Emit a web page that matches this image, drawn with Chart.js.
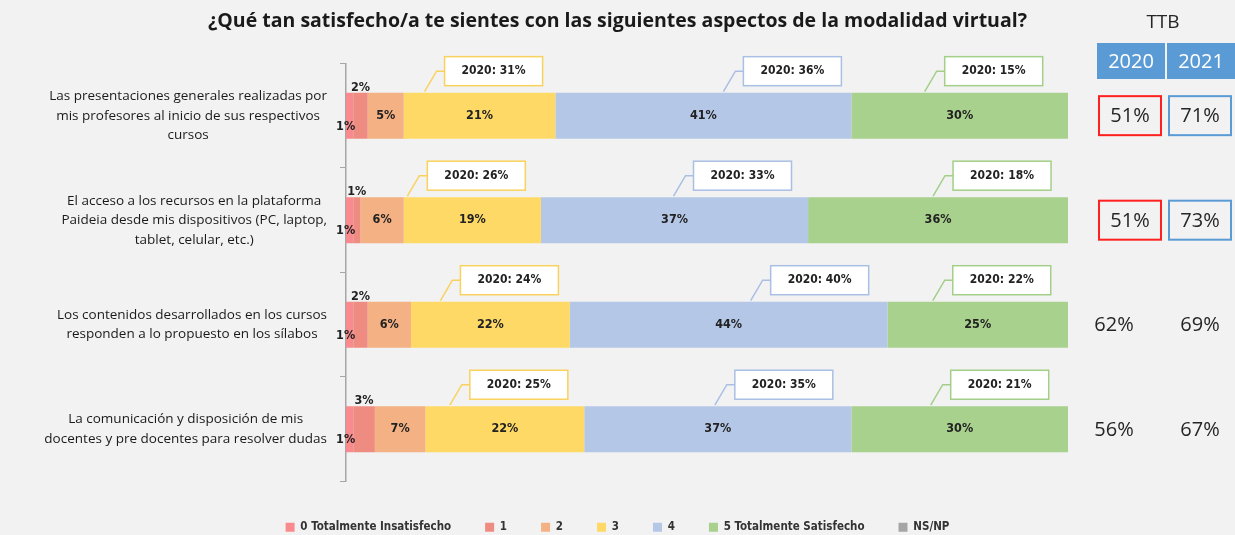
<!DOCTYPE html>
<html>
<head>
<meta charset="utf-8">
<script src="https://cdn.jsdelivr.net/npm/chart.js@4.4.1/dist/chart.umd.min.js"></script>
<style>
  html, body { margin: 0; padding: 0; background: #F2F2F2; overflow: hidden; }
  #wrap { width: 1235px; height: 543px; }
</style>
</head>
<body>
<div id="wrap"><canvas id="grafico"></canvas></div>
<script>
// Datos
const categorias = [
    ['Las presentaciones generales realizadas por', 'mis profesores al inicio de sus respectivos', 'cursos'],
    ['El acceso a los recursos en la plataforma', 'Paideia desde mis dispositivos (PC, laptop,', 'tablet, celular, etc.)'],
    ['Los contenidos desarrollados en los cursos', 'responden a lo propuesto en los sílabos'],
    ['La comunicación y disposición de mis', 'docentes y pre docentes para resolver dudas']
];
const nombresSeries = ['0 Totalmente Insatisfecho', '1', '2', '3', '4', '5 Totalmente Satisfecho', 'NS/NP'];
const valor0 = [1, 1, 1, 1];
const valor1 = [2, 1, 2, 3];
const valor2 = [5, 6, 6, 7];
const valor3 = [21, 19, 22, 22];
const valor4 = [41, 37, 44, 37];
const valor5 = [30, 36, 25, 30];
const valorNS = [0, 0, 0, 0];

// Valores 2020 (cuadros de llamada)
const previo3 = [31, 26, 24, 25];
const previo4 = [36, 33, 40, 35];
const previo5 = [15, 18, 22, 21];

// TTB
const ttbAnios = ['2020', '2021'];
const ttb2020 = [51, 51, 62, 56];
const ttb2021 = [71, 73, 69, 67];
const ttbResaltado = [true, true, false, false];

const colores = ['#F98B8E', '#EE8C82', '#F4B183', '#FFD966', '#B4C7E7', '#A9D18E', '#A5A5A5'];
const fuenteChica = '"Liberation Sans Narrow", "DejaVu Sans Condensed", sans-serif';

const series = [valor0, valor1, valor2, valor3, valor4, valor5, valorNS];

// Fondo gris
const fondo = {
    id: 'fondo',
    beforeDraw(chart) {
        const ctx = chart.ctx;
        ctx.save();
        ctx.fillStyle = '#F2F2F2';
        ctx.fillRect(0, 0, chart.width, chart.height);
        ctx.restore();
    }
};

// Etiquetas del eje Y (centradas por bloque)
const etiquetasY = {
    id: 'etiquetasY',
    afterDraw(chart) {
        const ctx = chart.ctx;
        const escala = chart.scales.y;
        ctx.save();
        ctx.font = '13.5px "Open Sans", sans-serif';
        ctx.fillStyle = '#1a1a1a';
        ctx.textAlign = 'center';
        ctx.textBaseline = 'middle';
        const alto = 19.5;
        chart.data.labels.forEach((lineas, i) => {
            const yc = escala.getPixelForValue(i);
            const ancho = Math.max(...lineas.map(l => ctx.measureText(l).width));
            const xc = escala.right - 19 - ancho / 2;
            lineas.forEach((l, k) => {
                ctx.fillText(l, xc, yc + (k - (lineas.length - 1) / 2) * alto);
            });
        });
        ctx.restore();
    }
};

// Etiquetas de datos, cuadros 2020 y columna TTB
const llamadas = {
    id: 'llamadas',
    afterDatasetsDraw(chart) {
        const ctx = chart.ctx;
        ctx.save();
        ctx.font = 'bold 12.5px ' + fuenteChica;
        ctx.fillStyle = '#222';
        ctx.textAlign = 'center';
        ctx.textBaseline = 'middle';
        chart.data.datasets.forEach((ds, di) => {
            const meta = chart.getDatasetMeta(di);
            meta.data.forEach((bar, i) => {
                const v = ds.data[i];
                if (!v) return;
                const cx = (bar.base + bar.x) / 2;
                let lx = cx, ly = bar.y;
                if (di === 0) { lx = cx - 4; ly = bar.y + 11; }
                if (di === 1) { ly = bar.y - bar.height / 2 - 5; }
                ctx.fillText(v + '%', lx, ly);
            });
        });

        // cuadros "2020: xx%" (desplazamiento de la caja respecto al centro del segmento)
        const previos = { 3: previo3, 4: previo4, 5: previo5 };
        const desplaz = { 3: [-35, -45, -30, -35], 4: [40, 19, 42, 17], 5: [-15, 15, -25, -9] };
        const bordes = { 3: '#F9D25E', 4: '#A9BFE3', 5: '#A3CF88' };
        ctx.font = 'bold 12px ' + fuenteChica;
        Object.keys(previos).forEach(k => {
            const di = Number(k);
            const meta = chart.getDatasetMeta(di);
            meta.data.forEach((bar, i) => {
                const arriba = bar.y - bar.height / 2;
                const cx = (bar.base + bar.x) / 2;
                const caja = { x: cx + desplaz[di][i], y: arriba - 36, w: 98, h: 29 };
                const medio = caja.y + caja.h / 2;
                ctx.strokeStyle = bordes[di];
                ctx.lineWidth = 1.5;
                ctx.beginPath();
                ctx.moveTo(caja.x - 20, arriba - 1);
                ctx.lineTo(caja.x - 8, medio);
                ctx.lineTo(caja.x, medio);
                ctx.stroke();
                ctx.fillStyle = '#FFFFFF';
                ctx.fillRect(caja.x, caja.y, caja.w, caja.h);
                ctx.strokeRect(caja.x, caja.y, caja.w, caja.h);
                ctx.fillStyle = '#222';
                ctx.fillText('2020: ' + previos[di][i] + '%', caja.x + caja.w / 2, medio);
            });
        });

        // TTB
        const der = chart.chartArea.right;
        const col = [der + 63, der + 133];
        ctx.font = '19px "Open Sans", sans-serif';
        ctx.fillStyle = '#262626';
        ctx.fillText('TTB', der + 95, 23);
        ctx.font = '20px "Open Sans", sans-serif';
        ttbAnios.forEach((a, j) => {
            ctx.fillStyle = '#5B9BD5';
            ctx.fillRect(col[j] - 34, 43, 68, 36);
            ctx.fillStyle = '#FFFFFF';
            ctx.fillText(a, col[j], 62);
        });
        const escala = chart.scales.y;
        [ttb2020, ttb2021].forEach((vals, j) => {
            vals.forEach((v, i) => {
                const yc = escala.getPixelForValue(i);
                let xc = col[j] - 1;
                if (ttbResaltado[i]) {
                    ctx.strokeStyle = j === 0 ? '#FF2020' : '#5B9BD5';
                    ctx.lineWidth = 2;
                    ctx.strokeRect(xc - 31, yc - 19.5, 62, 39);
                } else if (j === 0) {
                    xc -= 16;
                }
                ctx.fillStyle = '#262626';
                ctx.fillText(v + '%', xc, yc + 1);
            });
        });
        ctx.restore();
    }
};

const config = {
    type: 'bar',
    data: {
        labels: categorias,
        datasets: series.map((d, k) => ({
            label: nombresSeries[k],
            data: d,
            backgroundColor: colores[k],
            borderWidth: 0,
            barPercentage: 0.44,
            categoryPercentage: 1.0
        }))
    },
    options: {
        indexAxis: 'y',
        responsive: true,
        maintainAspectRatio: false,
        animation: false,
        layout: { padding: 0 },
        scales: {
            x: {
                stacked: true,
                min: 0,
                max: 100,
                display: true,
                ticks: { display: false },
                grid: { display: false },
                border: { display: false },
                afterFit(s) { s.height = 6; }
            },
            y: {
                stacked: true,
                ticks: { display: false },
                grid: { drawOnChartArea: false, tickLength: 6, color: '#A6A6A6' },
                border: { display: true, color: '#A6A6A6', width: 1.5 },
                afterFit(s) { s.width = 346; }
            },
            yDer: {
                type: 'category',
                position: 'right',
                display: true,
                ticks: { display: false },
                grid: { display: false },
                border: { display: false },
                afterFit(s) { s.width = 167; }
            }
        },
        plugins: {
            title: {
                display: true,
                text: '¿Qué tan satisfecho/a te sientes con las siguientes aspectos de la modalidad virtual?',
                color: '#1a1a1a',
                font: { family: '"Open Sans", sans-serif', size: 19.5, weight: 'bold' },
                padding: { top: 10, bottom: 30 }
            },
            legend: {
                position: 'bottom',
                labels: {
                    boxWidth: 9,
                    boxHeight: 9,
                    padding: 34,
                    color: '#333',
                    font: { family: fuenteChica, size: 11.5, weight: 'bold' }
                }
            },
            tooltip: { enabled: false }
        }
    },
    plugins: [fondo, etiquetasY, llamadas]
};

new Chart(document.getElementById('grafico'), config);
</script>
</body>
</html>
